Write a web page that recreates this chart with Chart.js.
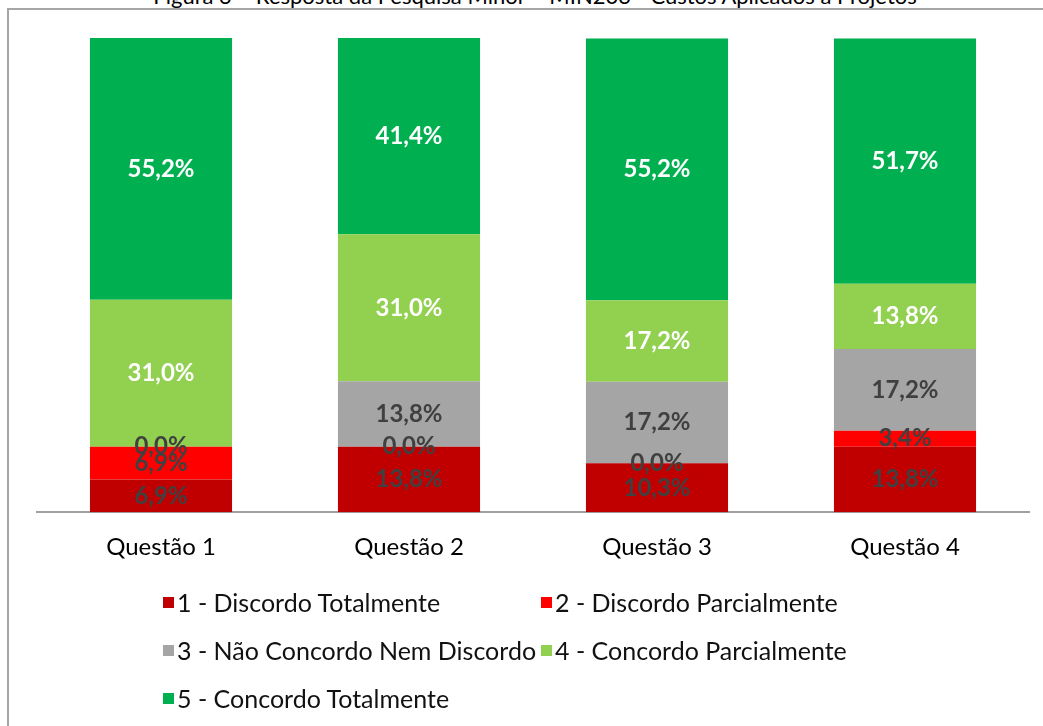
<!DOCTYPE html>
<html>
<head>
<meta charset="utf-8">
<script src="https://cdn.jsdelivr.net/npm/chart.js@4"></script>
<style>
  html, body { margin: 0; padding: 0; background: #fff; overflow: hidden; }
  body { width: 1043px; height: 726px; position: relative; font-family: Lato, "Open Sans", sans-serif; }
  #title { position: absolute; top: -18px; left: 0; width: 1070px; text-align: center; font-size: 22px; color: #000; white-space: nowrap; }
  #frame { position: absolute; left: 7px; top: 8px; width: 1100px; height: 800px; border: 2px solid #a6a6a6; box-sizing: border-box; }
  #wrap { position: absolute; left: 0; top: 0; width: 1043px; height: 726px; }
  #legend { position: absolute; left: 163px; top: 588px; display: grid; grid-template-columns: 378px 380px; row-gap: 20px; font-size: 25px; color: #111; }
  #legend .item { display: flex; align-items: center; height: 28px; white-space: nowrap; }
  #legend .box { width: 11px; height: 11px; margin-right: 3px; flex: none; }
</style>
</head>
<body>
<div id="title">Figura 3 – Resposta da Pesquisa Minor – MIN203 - Custos Aplicados à Projetos</div>
<div id="frame"></div>
<div id="wrap"><canvas id="c" width="1043" height="726"></canvas></div>
<div id="legend"></div>
<script>
// ===== Pesquisa Minor - stacked 100% bars =====
const categories = ['Questão 1', 'Questão 2', 'Questão 3', 'Questão 4'];
const seriesNames = ['1 - Discordo Totalmente', '2 - Discordo Parcialmente', '3 - Não Concordo Nem Discordo', '4 - Concordo Parcialmente', '5 - Concordo Totalmente'];
const discordoTotal = [6.9, 13.8, 10.3, 13.8];
const discordoParcial = [6.9, 0.0, 0.0, 3.4];
const neutro = [0.0, 13.8, 17.2, 17.2];
const concordoParcial = [31.0, 31.0, 17.2, 13.8];
const concordoTotal = [55.2, 41.4, 55.2, 51.7];

const COLORS = ['#C00000', '#FF0000', '#A5A5A5', '#92D050', '#00B050'];
const LABEL_COLORS = ['#404040', '#404040', '#404040', '#ffffff', '#ffffff'];
const values = [discordoTotal, discordoParcial, neutro, concordoParcial, concordoTotal];

const fmtPct = v => v.toFixed(1).replace('.', ',') + '%';

// labels centered in each segment (like Excel data labels)
const segLabels = {
    id: 'segLabels',
    afterDatasetsDraw(chart) {
        const ctx = chart.ctx;
        ctx.save();
        ctx.font = 'bold 24px Lato, "Open Sans", sans-serif';
        ctx.textAlign = 'center';
        ctx.textBaseline = 'middle';
        chart.data.datasets.forEach((ds, i) => {
            chart.getDatasetMeta(i).data.forEach((el, j) => {
                ctx.fillStyle = LABEL_COLORS[i];
                ctx.fillText(fmtPct(ds.data[j]), el.x, (el.y + el.base) / 2);
            });
        });
        ctx.restore();
    }
};

const chart = new Chart(document.getElementById('c').getContext('2d'), {
    type: 'bar',
    data: {
        labels: categories,
        datasets: seriesNames.map((n, i) => ({ label: n, data: values[i], backgroundColor: COLORS[i], borderWidth: 0, barPercentage: 0.573, categoryPercentage: 1 }))
    },
    options: { responsive: false, animation: false,
        layout: { padding: { left: 37, right: 14, top: 38, bottom: 151 } },
        scales: {
            x: { stacked: true, grid: { display: false }, border: { color: '#a0a0a0', width: 2 },
                 ticks: { color: '#000', padding: 13, font: { size: 24, family: 'Lato, "Open Sans", sans-serif' } } },
            y: { stacked: true, display: false, min: 0, max: 100 }
        },
        plugins: { legend: { display: false }, tooltip: { enabled: false } }
    },
    plugins: [segLabels]
});

// html legend in two columns
const leg = document.getElementById('legend');
chart.data.datasets.forEach(ds => {
    const it = document.createElement('div');
    it.className = 'item';
    it.innerHTML = `<span class="box" style="background:${ds.backgroundColor}"></span><span>${ds.label}</span>`;
    leg.appendChild(it);
});
</script>
</body>
</html>
